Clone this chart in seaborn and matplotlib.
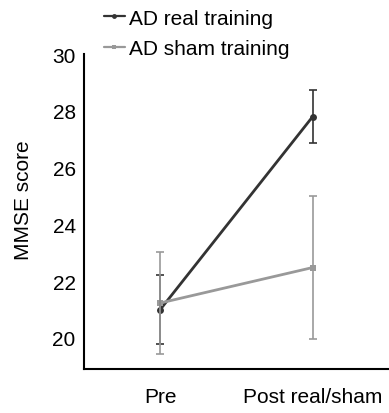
import matplotlib
matplotlib.use("Agg")
import matplotlib.pyplot as plt
import seaborn as sns
import pandas as pd

# values
timepoints = ["Pre", "Post real/sham"]
real_mean = [21.0, 27.8]
real_err = [1.22, 0.95]
sham_mean = [21.23, 22.48]
sham_err = [1.78, 2.53]

groups = ["AD real training", "AD sham training"]
colors = {"AD real training": "#333333", "AD sham training": "#999999"}
markers = {"AD real training": "o", "AD sham training": "s"}

df = pd.DataFrame({
    "time": list(range(len(timepoints))) * 2,
    "score": real_mean + sham_mean,
    "err": real_err + sham_err,
    "group": [groups[0]] * 2 + [groups[1]] * 2,
})

sns.set_style("white")
plt.rcParams["font.family"] = ["Liberation Sans", "DejaVu Sans"]
plt.rcParams["text.color"] = "black"
plt.rcParams["xtick.color"] = "black"
plt.rcParams["ytick.color"] = "black"
plt.rcParams["axes.labelcolor"] = "black"

fig = plt.figure(figsize=(3.89, 4.14), dpi=100)
ax = fig.add_axes([0.216, 0.106, 0.784, 0.761])

sns.lineplot(data=df, x="time", y="score", hue="group", style="group",
             palette=colors, markers=markers, dashes=False, markersize=5,
             markeredgewidth=0, linewidth=2, ax=ax, legend=False)

for g in groups:
    sub = df[df["group"] == g]
    ax.errorbar(sub["time"], sub["score"], yerr=sub["err"], fmt="none",
                ecolor=colors[g], elinewidth=1.2, capsize=3, capthick=1.2)

ax.set_xlim(-0.5, 1.5)
ax.set_ylim(18.9, 30)
ax.set_yticks([20, 22, 24, 26, 28, 30])
ax.set_xticks(range(len(timepoints)))
ax.set_xticklabels(timepoints)
ax.tick_params(axis="both", length=0, labelsize=15)
ax.tick_params(axis="y", pad=6)
ax.tick_params(axis="x", pad=13)
ax.set_xlabel("")
ax.set_ylabel("MMSE score", fontsize=15)
ax.yaxis.set_label_coords(-0.167, 0.54)

for s in ["top", "right"]:
    ax.spines[s].set_visible(False)
for s in ["left", "bottom"]:
    ax.spines[s].set_color("black")
    ax.spines[s].set_linewidth(1.5)

handles = [plt.Line2D([0], [0], color=colors[g], marker=markers[g],
                      markersize=3.5, markeredgewidth=0, linewidth=1.6)
           for g in groups]
fig.legend(handles, groups, loc="upper left", bbox_to_anchor=(0.262, 0.982),
           frameon=False, fontsize=15, handlelength=1.0, handletextpad=0.2,
           labelspacing=0.55, borderaxespad=0, borderpad=0.1)

fig.savefig("out.png", dpi=100)
